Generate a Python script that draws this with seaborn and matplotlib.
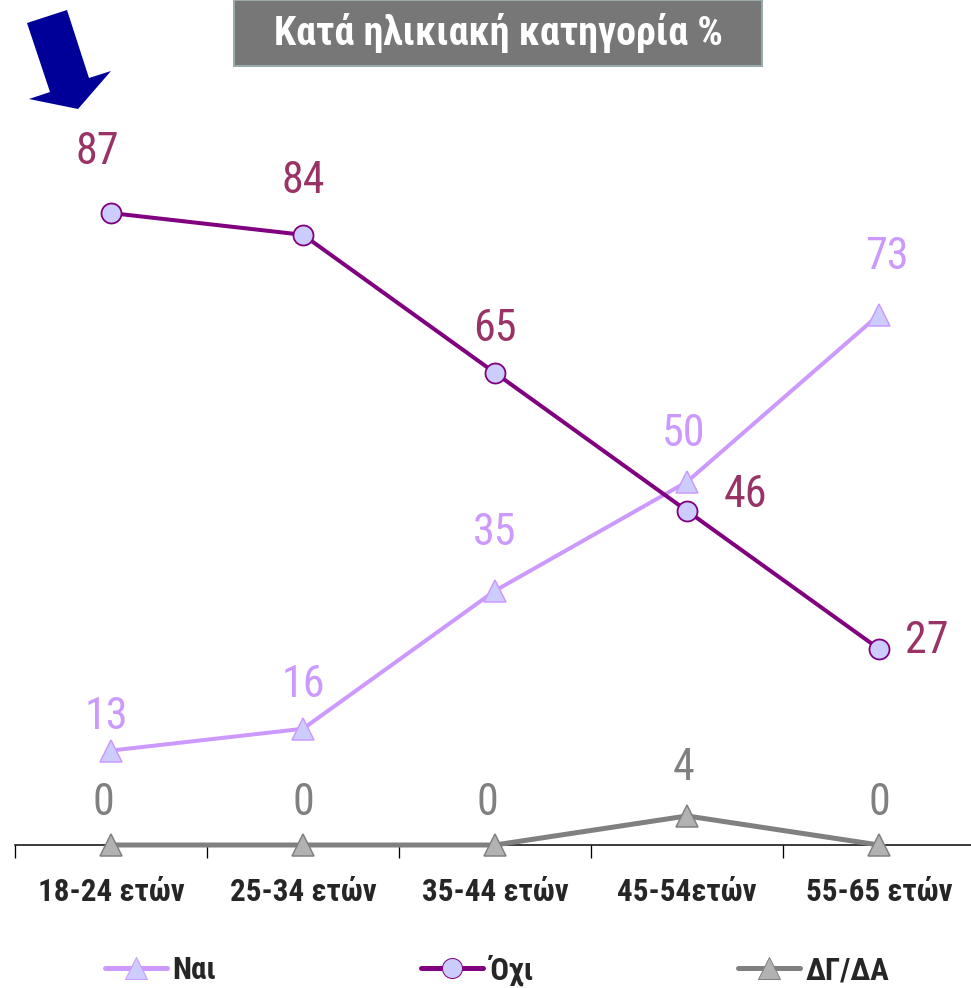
import numpy as np
import pandas as pd
import matplotlib
matplotlib.use("Agg")
import matplotlib.pyplot as plt
from matplotlib.patches import Polygon, Rectangle
from matplotlib.lines import Line2D
import seaborn as sns

# data
categories = ["18-24 ετών", "25-34 ετών", "35-44 ετών", "45-54ετών", "55-65 ετών"]
nai = [13, 16, 35, 50, 73]
oxi = [87, 84, 65, 46, 27]
dgda = [0, 0, 0, 4, 0]
title = "Κατά ηλικιακή κατηγορία %"

sns.set_style("white")
NARROW = ["Roboto Condensed", "DejaVu Sans"]
plt.rcParams["font.family"] = NARROW

W, H, DPI = 971, 988, 72
fig = plt.figure(figsize=(W / DPI, H / DPI), dpi=DPI)
# axes placed in pixel terms: x from 15 to 975, y=0 at 845px, 7.264 px per unit
ax_bottom = 1 - 845 / H
ax_h = 100 * 7.264 / H
ax = fig.add_axes([15 / W, ax_bottom, 960 / W, ax_h])

c_nai, c_oxi, c_dg = "#CC99FF", "#800080", "#808080"
fill = "#CCCCFF"

sns.lineplot(x=categories, y=nai, ax=ax, color=c_nai, lw=4, marker="^",
             markersize=22, markerfacecolor=fill, markeredgecolor=c_nai,
             markeredgewidth=1.5, clip_on=False, sort=False)
sns.lineplot(x=categories, y=oxi, ax=ax, color=c_oxi, lw=4, marker="o",
             markersize=20, markerfacecolor=fill, markeredgecolor=c_oxi,
             markeredgewidth=1.8, clip_on=False, sort=False)
sns.lineplot(x=categories, y=dgda, ax=ax, color=c_dg, lw=5, marker="^",
             markersize=22, markerfacecolor="#B2B2B2", markeredgecolor=c_dg,
             markeredgewidth=1.5, clip_on=False, sort=False, zorder=5)

ax.set_xlim(-0.5, 4.5)
ax.set_ylim(0, 100)
ax.set_xlabel("")
ax.set_ylabel("")
ax.set_yticks([])
for s in ["left", "right", "top"]:
    ax.spines[s].set_visible(False)
ax.spines["bottom"].set_color("black")
ax.spines["bottom"].set_linewidth(1.5)
ax.set_xticks(range(len(categories)))
ax.set_xticklabels(categories, fontsize=31, fontweight="bold", family=NARROW)
ax.tick_params(axis="x", which="major", length=0, pad=32)
ax.set_xticks(np.arange(-0.5, 5, 1), minor=True)
ax.tick_params(axis="x", which="minor", bottom=True, length=13, width=1.3,
               color="black", direction="out")

lab = dict(fontsize=44, ha="center", va="center", textcoords="offset points",
           annotation_clip=False)
# Όχι labels
oxi_off = [(-14, 61), (0, 54), (0, 44), (58, 16), (48, 8)]
for i, (v, off) in enumerate(zip(oxi, oxi_off)):
    ax.annotate(str(v), (i, v), xytext=off, color="#993366", **lab)
nai_off = [(-5, 34), (0, 44), (0, 58), (-3, 48), (8, 58)]
for i, (v, off) in enumerate(zip(nai, nai_off)):
    ax.annotate(str(v), (i, v), xytext=off, color=c_nai, **lab)
dg_off = [(-8, 42), (0, 42), (-8, 42), (-3, 48), (0, 42)]
for i, (v, off) in enumerate(zip(dgda, dg_off)):
    ax.annotate(str(v), (i, v), xytext=off, color=c_dg, **lab)

# title box
fig.patches.append(Rectangle((234 / W, 1 - 66 / H), 528 / W, 66 / H,
                             transform=fig.transFigure, facecolor="#777777",
                             edgecolor="#99AAAA", lw=2))
fig.text(498 / W, 1 - 33 / H, title, color="white", fontsize=40,
         fontweight="bold", ha="center", va="center", family=NARROW)

# blue arrow
arrow = [(27, 23), (67, 10), (89, 78), (111, 71), (78, 109), (29, 99), (50, 92)]
fig.patches.append(Polygon([(x / W, 1 - y / H) for x, y in arrow], closed=True,
                           transform=fig.transFigure, facecolor="#000099",
                           edgecolor="none"))

# legend
handles = [
    Line2D([], [], color=c_nai, lw=5, marker="^", markersize=22,
           markerfacecolor=fill, markeredgecolor=c_nai),
    Line2D([], [], color=c_oxi, lw=5, marker="o", markersize=20,
           markerfacecolor=fill, markeredgecolor=c_oxi),
    Line2D([], [], color=c_dg, lw=5, marker="^", markersize=22,
           markerfacecolor="#B2B2B2", markeredgecolor=c_dg),
]
fig.legend(handles, ["Ναι", "Όχι", "ΔΓ/ΔΑ"], loc="center",
           bbox_to_anchor=(497 / W, 1 - 970 / H), ncol=3, frameon=False,
           prop=dict(family=NARROW, size=31, weight="bold"),
           handlelength=2.0, handletextpad=0.2, columnspacing=6.6)

fig.savefig("out.png", dpi=DPI)
